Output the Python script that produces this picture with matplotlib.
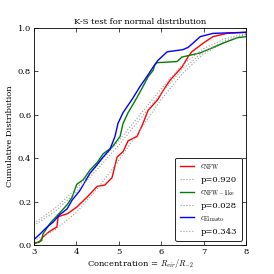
import matplotlib
matplotlib.use("Agg")
import matplotlib.pyplot as plt

plt.rcParams['font.family'] = ['DejaVu Serif']
plt.rcParams['mathtext.fontset'] = 'cm'
plt.rcParams['xtick.direction'] = 'in'
plt.rcParams['ytick.direction'] = 'in'
plt.rcParams['xtick.top'] = True
plt.rcParams['ytick.right'] = True

# cumulative distributions
nfw_x = [3.0, 3.12, 3.21, 3.35, 3.54, 3.57, 3.8, 4.01, 4.25, 4.49, 4.67, 4.84, 4.96, 5.1, 5.22, 5.43,
         5.57, 5.69, 5.92, 6.04, 6.21, 6.28, 6.49, 6.63, 6.72, 6.99, 7.22, 7.55, 8.0]
nfw_y = [0.01, 0.012, 0.037, 0.06, 0.083, 0.13, 0.145, 0.175, 0.22, 0.27, 0.276, 0.31, 0.405, 0.43, 0.48, 0.50,
         0.56, 0.62, 0.67, 0.71, 0.76, 0.775, 0.82, 0.866, 0.89, 0.93, 0.96, 0.975, 0.98]

like_x = [3.0, 3.18, 3.21, 3.38, 3.57, 3.78, 3.9, 4.01, 4.16, 4.32, 4.49, 4.63, 4.84, 5.03,
          5.1, 5.22, 5.43, 5.57, 5.69, 5.81, 5.85, 5.9, 6.37, 6.49, 6.92, 7.22, 7.46, 7.79, 8.0]
like_y = [0.005, 0.02, 0.05, 0.1, 0.14, 0.185, 0.22, 0.28, 0.3, 0.345, 0.38, 0.42, 0.45, 0.50,
          0.56, 0.61, 0.68, 0.73, 0.775, 0.805, 0.83, 0.84, 0.845, 0.866, 0.885, 0.91, 0.93, 0.955, 0.96]

ein_x = [3.0, 3.14, 3.31, 3.45, 3.61, 3.78, 3.9, 4.08, 4.32, 4.49, 4.63, 4.79, 4.91,
         4.98, 5.1, 5.31, 5.5, 5.66, 5.81, 5.92, 6.14, 6.51, 6.63, 6.75, 6.92, 7.22, 8.0]
ein_y = [0.025, 0.05, 0.083, 0.105, 0.14, 0.166, 0.207, 0.25, 0.33, 0.37, 0.405, 0.44, 0.5,
         0.56, 0.61, 0.67, 0.73, 0.775, 0.82, 0.85, 0.89, 0.9, 0.91, 0.93, 0.96, 0.975, 0.98]

# fitted normal cdfs (dotted)
fit_x = [3.0, 3.5, 4.0, 4.5, 5.0, 5.5, 6.0, 6.5, 7.0, 7.5, 8.0]
fit_nfw = [0.02, 0.07, 0.15, 0.26, 0.39, 0.53, 0.67, 0.79, 0.88, 0.935, 0.97]
fit_like = [0.10, 0.17, 0.26, 0.37, 0.48, 0.60, 0.72, 0.83, 0.905, 0.95, 0.975]
fit_ein = [0.09, 0.155, 0.245, 0.35, 0.46, 0.58, 0.70, 0.81, 0.89, 0.94, 0.97]

labels = [r'$c_{\rm NFW}$', 'p=0.920', r'$c_{\rm NFW-like}$', 'p=0.028',
          r'$c_{\rm Einasto}$', 'p=0.343']

fig = plt.figure(figsize=(2.74, 2.74), dpi=100)
ax = fig.add_axes([0.124, 0.106, 0.774, 0.792])

ax.plot(nfw_x, nfw_y, color='red', lw=1.0, label=labels[0])
ax.plot(fit_x, fit_nfw, color='#999999', ls=':', lw=0.8, label=labels[1])
ax.plot(like_x, like_y, color='green', lw=1.0, label=labels[2])
ax.plot(fit_x, fit_like, color='#999999', ls=':', lw=0.8, label=labels[3])
ax.plot(ein_x, ein_y, color='blue', lw=1.0, label=labels[4])
ax.plot(fit_x, fit_ein, color='#999999', ls=':', lw=0.8, label=labels[5])

ax.set_xlim(3, 8)
ax.set_ylim(0, 1)
ax.set_xticks([3, 4, 5, 6, 7, 8])
ax.set_yticks([0.0, 0.2, 0.4, 0.6, 0.8, 1.0])
ax.tick_params(labelsize=6, length=3, width=0.5, pad=2)
for s in ax.spines.values():
    s.set_linewidth(0.6)

ax.set_title('K-S test for normal distribution', fontsize=6, pad=3)
ax.set_xlabel(r'Concentration = $R_{vir}/R_{-2}$', fontsize=6, labelpad=1)
ax.set_ylabel('Cumulative Distribution', fontsize=6, labelpad=3)

leg = ax.legend(loc='lower right', fontsize=6, handlelength=1.6, fancybox=True,
                borderpad=0.6, labelspacing=0.5, handletextpad=0.8, framealpha=1)
leg.get_frame().set_linewidth(0.6)
leg.get_frame().set_edgecolor('black')

fig.savefig('out.png', dpi=100)
